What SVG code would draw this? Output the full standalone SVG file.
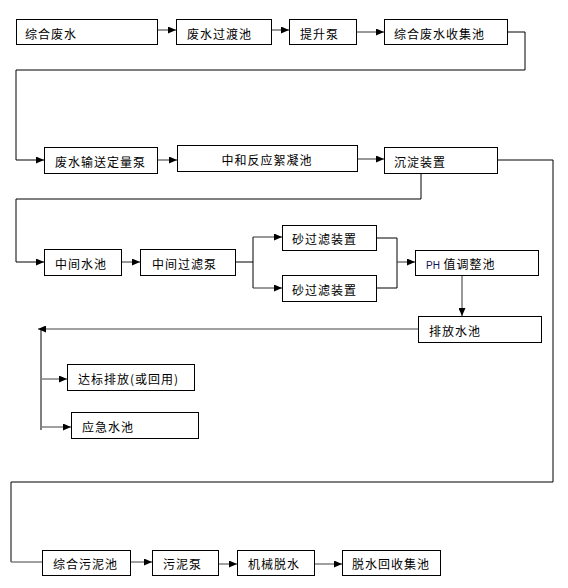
<svg xmlns="http://www.w3.org/2000/svg" width="568" height="588" viewBox="0 0 568 588">
<style>
.box{fill:#fff;stroke:#000;stroke-width:1}
.t{font-family:"Noto Sans CJK SC","Noto Sans CJK JP",sans-serif;font-size:12px;letter-spacing:1px;fill:#000}
.ln{fill:none;stroke:#000;stroke-width:1}
.ar{fill:none;stroke:#333;stroke-width:1}
.gr{fill:none;stroke:#808080;stroke-width:1.5}
.ph{font-family:"Liberation Sans",Arial,sans-serif;font-size:10px;letter-spacing:0;fill:#10105a}
</style>
<defs>
<marker id="ah" markerUnits="userSpaceOnUse" markerWidth="8" markerHeight="7" refX="8" refY="3.5" orient="auto">
<path d="M0,0 L8,3.5 L0,7 z" fill="#000"/>
</marker>
</defs>
<rect width="568" height="588" fill="#fff"/>
<g id="connectors">
<line class="ar" x1="157" y1="30" x2="176" y2="30" marker-end="url(#ah)"/>
<line class="ar" x1="271" y1="30" x2="289" y2="30" marker-end="url(#ah)"/>
<line class="ar" x1="356" y1="32" x2="384" y2="32" marker-end="url(#ah)"/>
<polyline class="ln" points="507,32 525,32 525,70 16,70 16,160 44,160" marker-end="url(#ah)"/>
<line class="ar" x1="157" y1="160" x2="177" y2="160" marker-end="url(#ah)"/>
<line class="ar" x1="357" y1="159" x2="384" y2="159" marker-end="url(#ah)"/>
<polyline class="ln" points="497,160 553,160 553,482 11,482 11,562"/>
<line class="gr" x1="11" y1="562" x2="42" y2="562"/>
<polyline class="ln" points="421,173 421,199 16,199 16,262 44,262" marker-end="url(#ah)"/>
<line class="ar" x1="121" y1="262" x2="140" y2="262" marker-end="url(#ah)"/>
<line class="ln" x1="235" y1="262" x2="253" y2="262"/>
<line class="ln" x1="253" y1="237" x2="253" y2="288"/>
<line class="ar" x1="253" y1="237" x2="282" y2="237" marker-end="url(#ah)"/>
<line class="ar" x1="253" y1="288" x2="282" y2="288" marker-end="url(#ah)"/>
<polyline class="ln" points="376,238 397,238 397,288 376,288"/>
<line class="ar" x1="397" y1="262" x2="415" y2="262" marker-end="url(#ah)"/>
<line class="ar" x1="462" y1="275" x2="462" y2="316" marker-end="url(#ah)"/>
<line class="gr" x1="418" y1="329" x2="38" y2="329" marker-end="url(#ah)"/>
<line class="ln" x1="41" y1="329" x2="41" y2="430"/>
<line class="gr" x1="41" y1="379" x2="67" y2="379" marker-end="url(#ah)"/>
<line class="gr" x1="41" y1="427" x2="71" y2="427" marker-end="url(#ah)"/>
<line class="gr" x1="130" y1="562" x2="152" y2="562" marker-end="url(#ah)"/>
<line class="gr" x1="218" y1="564" x2="237" y2="564" marker-end="url(#ah)"/>
<line class="gr" x1="314" y1="564" x2="342" y2="564" marker-end="url(#ah)"/>
</g>
<g id="n1"><rect class="box" x="16.5" y="19.5" width="141" height="25"/><text class="t" x="25" y="38.5">综合废水</text></g>
<g id="n2"><rect class="box" x="176.5" y="19.5" width="95" height="25"/><text class="t" x="187" y="38.5">废水过渡池</text></g>
<g id="n3"><rect class="box" x="289.5" y="19.5" width="67" height="25"/><text class="t" x="300" y="38.5">提升泵</text></g>
<g id="n4"><rect class="box" x="384.5" y="19.5" width="123" height="25"/><text class="t" x="394" y="38.5">综合废水收集池</text></g>
<g id="n5"><rect class="box" x="44.5" y="147.5" width="113" height="26"/><text class="t" x="55" y="166.5">废水输送定量泵</text></g>
<g id="n6"><rect class="box" x="177.5" y="145.5" width="180" height="26"/><text class="t" x="267" y="164.5" text-anchor="middle">中和反应絮凝池</text></g>
<g id="n7"><rect class="box" x="384.5" y="147.5" width="113" height="26"/><text class="t" x="394" y="166.5">沉淀装置</text></g>
<g id="n8"><rect class="box" x="44.5" y="249.5" width="77" height="26"/><text class="t" x="55" y="268.5">中间水池</text></g>
<g id="n9"><rect class="box" x="140.5" y="249.5" width="95" height="26"/><text class="t" x="152" y="268.5">中间过滤泵</text></g>
<g id="n10"><rect class="box" x="282.5" y="225.5" width="94" height="25"/><text class="t" x="292" y="244">砂过滤装置</text></g>
<g id="n11"><rect class="box" x="282.5" y="275.5" width="94" height="26"/><text class="t" x="292" y="294.5">砂过滤装置</text></g>
<g id="n12"><rect class="box" x="415.5" y="250.5" width="123" height="25"/><text class="t" x="426" y="269"><tspan class="ph">PH</tspan> 值调整池</text></g>
<g id="n13"><rect class="box" x="418.5" y="316.5" width="123" height="26"/><text class="t" x="429" y="335.5">排放水池</text></g>
<g id="n14"><rect class="box" x="67.5" y="364.5" width="127" height="26"/><text class="t" x="78" y="383.5">达标排放(或回用)</text></g>
<g id="n15"><rect class="box" x="71.5" y="412.5" width="127" height="26"/><text class="t" x="82" y="431.5">应急水池</text></g>
<g id="n16"><rect class="box" x="42.5" y="550.5" width="88" height="25"/><text class="t" x="53" y="569">综合污泥池</text></g>
<g id="n17"><rect class="box" x="152.5" y="550.5" width="66" height="25"/><text class="t" x="163" y="569">污泥泵</text></g>
<g id="n18"><rect class="box" x="237.5" y="550.5" width="77" height="25"/><text class="t" x="248" y="569">机械脱水</text></g>
<g id="n19"><rect class="box" x="342.5" y="550.5" width="98" height="25"/><text class="t" x="352" y="569">脱水回收集池</text></g>
</svg>
